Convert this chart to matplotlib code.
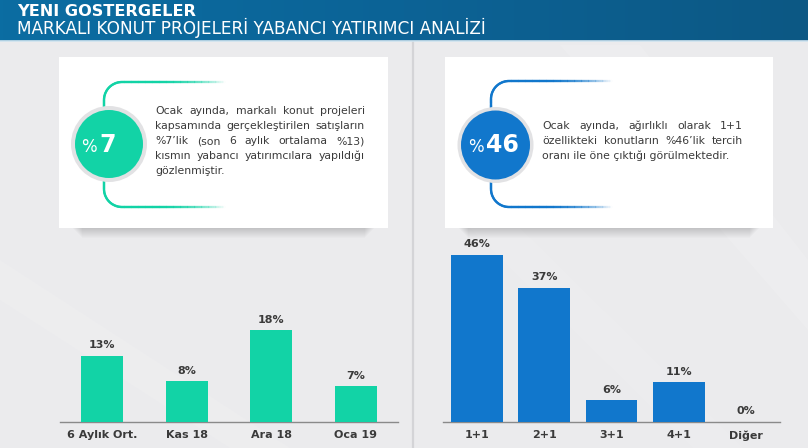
import numpy as np
import matplotlib
matplotlib.use("Agg")
import matplotlib.pyplot as plt
from matplotlib.patches import Rectangle, Circle, Polygon
from matplotlib.collections import LineCollection
from matplotlib.colors import to_rgba, LinearSegmentedColormap

# ---------------- data ----------------
title_main = "YENI GOSTERGELER"
title_sub = "MARKALI KONUT PROJELERİ YABANCI YATIRIMCI ANALİZİ"

left_categories = ["6 Aylık Ort.", "Kas 18", "Ara 18", "Oca 19"]
left_values = [13, 8, 18, 7]

right_categories = ["1+1", "2+1", "3+1", "4+1", "Diğer"]
right_values = [46, 37, 6, 11, 0]

left_big = "7"
right_big = "46"

left_text_lines = [
    "Ocak ayında, markalı konut projeleri",
    "kapsamında gerçekleştirilen satışların",
    "%7’lik (son 6 aylık ortalama %13)",
    "kısmın yabancı yatırımcılara yapıldığı",
    "gözlenmiştir.",
]
right_text_lines = [
    "Ocak ayında, ağırlıklı olarak 1+1",
    "özellikteki konutların %46’lik tercih",
    "oranı ile öne çıktığı görülmektedir.",
]

TEAL = "#12d3a6"
BLUE = "#1177cc"
TXT = "#3a3a3a"
W, H = 808, 448

plt.rcParams['font.family'] = ['DejaVu Sans']
fig = plt.figure(figsize=(W / 100, H / 100), dpi=100)
fig.patch.set_facecolor("#ebebed")

bg = fig.add_axes([0, 0, 1, 1], zorder=0)
bg.set_xlim(0, W)
bg.set_ylim(H, 0)
bg.axis("off")

# background subtle diagonal sheens
bg.add_patch(Polygon([(560, 45), (640, 45), (808, 260), (808, 330)], closed=True,
                     facecolor="white", alpha=0.12, lw=0))
bg.add_patch(Polygon([(0, 260), (0, 300), (230, 448), (290, 448)], closed=True,
                     facecolor="white", alpha=0.10, lw=0))
bg.add_patch(Polygon([(470, 228), (520, 228), (413 + 330, 448), (413 + 280, 448)], closed=True,
                     facecolor="white", alpha=0.08, lw=0))
# vertical separator
bg.plot([413, 413], [42, 448], color="#d4d4d7", lw=1.6, zorder=1)

# header gradient
grad = np.linspace(0, 1, 256).reshape(1, -1)
cmap_h = LinearSegmentedColormap.from_list("h", ["#0b6da2", "#0c6396", "#0d5884"])
bg.imshow(grad, extent=[0, W, 41, 0], cmap=cmap_h, aspect="auto", zorder=1)
bg.plot([0, W], [41.5, 41.5], color="#cfe3ef", lw=1.2, zorder=2)
bg.text(17, 11, title_main, color="white", fontsize=11.6, fontweight="bold",
        va="center", ha="left", zorder=3)
bg.text(17, 28, title_sub, color="white", fontsize=12.2, va="center", ha="left", zorder=3)


def card(x0, y0, x1, y1):
    # soft shadow below
    for i in range(10):
        bg.add_patch(Rectangle((x0 + 14 + i, y1), (x1 - x0) - 28 - 2 * i, 1.5 + i * 0.9,
                               facecolor="black", alpha=0.016, lw=0, zorder=2))
    bg.add_patch(Rectangle((x0, y0), x1 - x0, y1 - y0, facecolor="white", lw=0, zorder=3))


def bracket(lx, cy, rr, ty, by, x_end, color):
    R = 18
    for top, sgn in ((ty, -1), (by, 1)):
        pts = []
        y_start = cy + sgn * rr
        y_corner = top - sgn * R
        for y in np.linspace(y_start, y_corner, 10):
            pts.append((lx, y))
        th = np.linspace(np.pi, np.pi / 2, 20)
        for t in th:
            pts.append((lx + R + R * np.cos(t), top - sgn * R + sgn * R * np.sin(t)))
        for x in np.linspace(lx + R, x_end, 60):
            pts.append((x, top))
        pts = np.array(pts)
        segs = np.stack([pts[:-1], pts[1:]], axis=1)
        base = np.array(to_rgba(color))
        cols = []
        fade_start = lx + R + 35
        for s in segs:
            xm = s[:, 0].mean()
            a = 1.0
            if xm > fade_start:
                a = max(0.0, 1 - (xm - fade_start) / (x_end - fade_start))
            c = base.copy()
            c[3] = a
            cols.append(c)
        lc = LineCollection(segs, colors=cols, linewidths=1.7, zorder=4, capstyle="round")
        bg.add_collection(lc)


def justified(lines, x0, x1, y0, dy, fs):
    r = fig.canvas.get_renderer()
    inv = bg.transData.inverted()
    for i, line in enumerate(lines):
        y = y0 + i * dy
        words = line.split(" ")
        if i == len(lines) - 1 or len(words) == 1:
            bg.text(x0, y, line, fontsize=fs, color=TXT, va="baseline", ha="left", zorder=5)
            continue
        ts = [bg.text(0, y, w, fontsize=fs, color=TXT, va="baseline", ha="left", zorder=5)
              for w in words]
        widths = []
        for t in ts:
            bb = t.get_window_extent(renderer=r)
            p0 = inv.transform((bb.x0, bb.y0))
            p1 = inv.transform((bb.x1, bb.y0))
            widths.append(p1[0] - p0[0])
        gap = ((x1 - x0) - sum(widths)) / (len(words) - 1)
        x = x0
        for t, wd in zip(ts, widths):
            t.set_x(x)
            x += wd + gap


# cards
card(59, 57, 388, 228)
card(445, 57, 773, 228)

# left circle
bracket(104, 144, 36, 82, 207, 225, TEAL)
bg.add_patch(Circle((109, 144), 38, facecolor="#e2e2e4", lw=0, zorder=5))
bg.add_patch(Circle((109, 144), 34, facecolor=TEAL, lw=0, zorder=6))
bg.text(97, 152, "%", fontsize=12, color="white", ha="right", va="baseline", zorder=7)
bg.text(99, 152, left_big, fontsize=17, fontweight="bold", color="white",
        ha="left", va="baseline", zorder=7)

# right circle
bracket(491, 145, 36, 81, 207, 612, BLUE)
bg.add_patch(Circle((495.5, 145), 38, facecolor="#e2e2e4", lw=0, zorder=5))
bg.add_patch(Circle((495.5, 145), 34.5, facecolor=BLUE, lw=0, zorder=6))
bg.text(484, 152, "%", fontsize=12, color="white", ha="right", va="baseline", zorder=7)
bg.text(486, 152, right_big, fontsize=17, fontweight="bold", color="white",
        ha="left", va="baseline", zorder=7)

justified(left_text_lines, 155, 365, 114, 15, 7.85)
justified(right_text_lines, 542, 743, 129, 15, 7.85)


def bar_panel(x0, x1, base_y, top_y, px_per_unit, cats, vals, color, width):
    ax = fig.add_axes([x0 / W, (H - base_y) / H, (x1 - x0) / W, (base_y - top_y) / H], zorder=2)
    ax.patch.set_alpha(0)
    ax.bar(range(len(cats)), vals, width=width, color=color, zorder=3)
    ax.set_xlim(-0.5, len(cats) - 0.5)
    ax.set_ylim(0, (base_y - top_y) / px_per_unit)
    for s in ["top", "right", "left"]:
        ax.spines[s].set_visible(False)
    ax.spines["bottom"].set_color("#8a8a8a")
    ax.spines["bottom"].set_linewidth(1.0)
    ax.set_yticks([])
    ax.set_xticks(range(len(cats)))
    ax.set_xticklabels(cats, fontsize=8, fontweight="bold", color=TXT)
    ax.tick_params(axis="x", length=0, pad=6)
    for i, v in enumerate(vals):
        ax.annotate(f"{v}%", (i, v), xytext=(0, 4), textcoords="offset points",
                    ha="center", va="bottom", fontsize=8, fontweight="bold", color=TXT)
    return ax


bar_panel(60, 398, 422, 240, 5.1, left_categories, left_values, TEAL, 0.5)
bar_panel(443, 780, 422, 240, 3.63, right_categories, right_values, BLUE, 0.77)

fig.savefig("out.png", dpi=100, facecolor=fig.get_facecolor())
